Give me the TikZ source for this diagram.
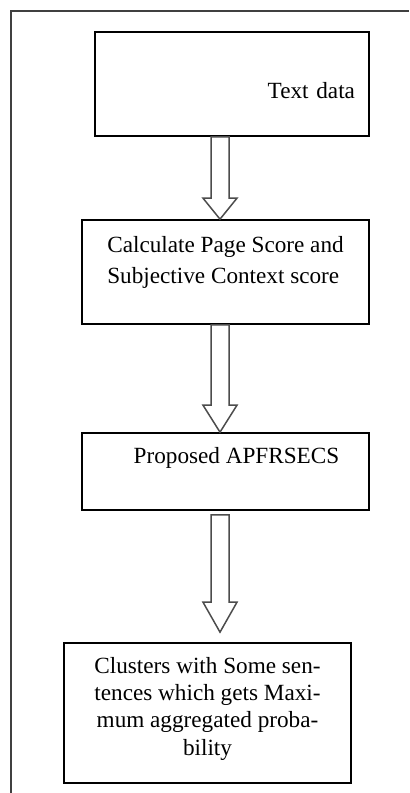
\documentclass[tikz,border=0pt]{standalone}
\usepackage{fontspec}
\setmainfont{Liberation Serif}
\usetikzlibrary{calc}
\tikzset{
  box/.style={draw, rectangle, line width=0.85pt, inner ysep=0pt, minimum width=143.5pt},
  hollow/.style={draw=black!70, line width=0.75pt, line join=miter},
  frame/.style={draw=black!75, line width=1pt}
}
% hollow block arrow: from node, to node, gap at start, gap at tip, head length
\newcommand{\hollowarrow}[5]{%
  \draw[hollow] ($(ax |- #1.south)+(-9,#3)$) -- ($(ax |- #2.north)+(-9,-#4-#5)$)
    -- ($(ax |- #2.north)+(-17,-#4-#5)$) -- ($(ax |- #2.north)+(0,-#4)$)
    -- ($(ax |- #2.north)+(17,-#4-#5)$) -- ($(ax |- #2.north)+(9,-#4-#5)$)
    -- ($(ax |- #1.south)+(9,#3)$) -- cycle;}

\begin{document}
\begin{tikzpicture}[x=0.5pt, y=-0.5pt]
\useasboundingbox (0,0) rectangle (409,793);
\draw[frame] (11,793) -- (11,11) -- (409,11);

\node[box, minimum width=137pt, minimum height=52pt, text width=123pt, inner xsep=7pt,
  align=right, text height=14pt, text depth=0pt, font=\fontsize{11.6}{14}\selectfont]
  (data) at (232,84) {Text data};
\node[box, minimum height=52pt, align=left, text depth=12.5pt,
  font=\fontsize{11.6}{15.5}\selectfont]
  (score) at (225.5,272) {Calculate Page Score and\\Subjective Context score};
\node[box, minimum height=38.5pt, text height=8pt, text depth=16.5pt,
  font=\fontsize{11.6}{14}\selectfont]
  (apf) at (225.5,471.5) {\hspace*{11pt}Proposed APFRSECS};
\node[box, minimum height=70pt, align=center, text depth=6.8pt,
  font=\fontsize{11.6}{13.7}\selectfont]
  (clus) at (207.5,713) {Clusters with Some sen-\\tences which gets Maxi-\\mum aggregated proba-\\bility};

\coordinate (ax) at (220,0);
\hollowarrow{data}{score}{0}{0}{21}
\hollowarrow{score}{apf}{0}{0}{27}
\hollowarrow{apf}{clus}{4}{10}{30}
\end{tikzpicture}
\end{document}
